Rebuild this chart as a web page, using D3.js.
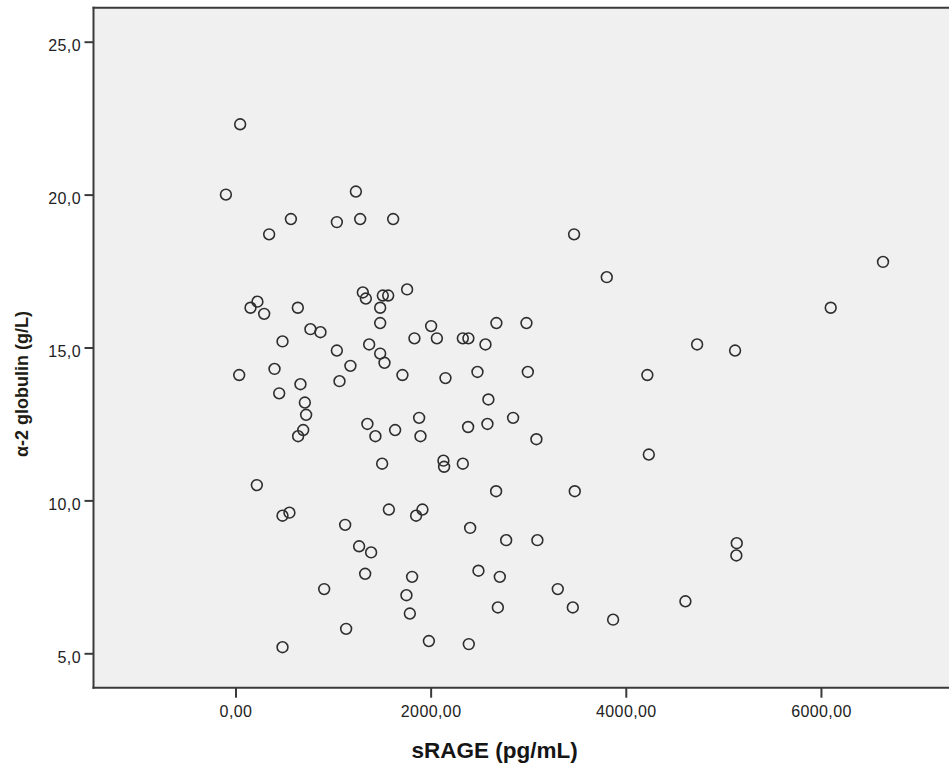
<!DOCTYPE html>
<html>
<head>
<meta charset="utf-8">
<script src="https://cdn.jsdelivr.net/npm/d3@7/dist/d3.min.js"></script>
<style>
  html, body { margin: 0; padding: 0; background: #ffffff; }
  svg { display: block; }
  text { font-family: "Liberation Sans", Arial, sans-serif; }
</style>
</head>
<body>
<svg id="chart" width="949" height="765"></svg>
<script>
// ---- data ----
const sRAGE = [
  48, -98, 1234, 568, 1039, 1278, 1616, 345, 1305, 1336,
  1510, 1565, 1759, 1483, 1483, 225, 154, 294, 639, 768,
  871, 482, 1039, 1370, 1483, 2005, 1834, 2064, 38, 400,
  1178, 1527, 1711, 666, 448, 1066, 711, 724, 694, 642,
  1352, 1434, 1636, 1882, 1896, 1503, 219, 482, 553, 1572,
  1851, 1916, 1124, 1267, 1390, 1329, 1810, 909, 1752, 1787,
  1134, 1982, 482, 3470, 3805, 2330, 2387, 2674, 2982, 2562,
  2152, 2480, 2996, 2592, 2845, 2384, 2582, 3084, 2131, 2138,
  2330, 2671, 3477, 2405, 2774, 3094, 2490, 2709, 3303, 2689,
  3457, 3870, 2391, 6636, 6100, 4731, 5120, 4221, 4236, 5137,
  5133, 4611
];
const alpha2 = [
  22.3, 20.0, 20.1, 19.2, 19.1, 19.2, 19.2, 18.7, 16.8, 16.6,
  16.7, 16.7, 16.9, 16.3, 15.8, 16.5, 16.3, 16.1, 16.3, 15.6,
  15.5, 15.2, 14.9, 15.1, 14.8, 15.7, 15.3, 15.3, 14.1, 14.3,
  14.4, 14.5, 14.1, 13.8, 13.5, 13.9, 13.2, 12.8, 12.3, 12.1,
  12.5, 12.1, 12.3, 12.7, 12.1, 11.2, 10.5, 9.5, 9.6, 9.7,
  9.5, 9.7, 9.2, 8.5, 8.3, 7.6, 7.5, 7.1, 6.9, 6.3,
  5.8, 5.4, 5.2, 18.7, 17.3, 15.3, 15.3, 15.8, 15.8, 15.1,
  14.0, 14.2, 14.2, 13.3, 12.7, 12.4, 12.5, 12.0, 11.3, 11.1,
  11.2, 10.3, 10.3, 9.1, 8.7, 8.7, 7.7, 7.5, 7.1, 6.5,
  6.5, 6.1, 5.3, 17.8, 16.3, 15.1, 14.9, 14.1, 11.5, 8.6,
  8.2, 6.7
];
const xTicks = [0, 2000, 4000, 6000];
const yTicks = [5, 10, 15, 20, 25];
const xTitle = "sRAGE (pg/mL)";
const yTitle = "\u03B1-2 globulin (g/L)";

const points = sRAGE.map((v, i) => ({ x: v, y: alpha2[i] }));

// ---- layout ----
const svg = d3.select("#chart");
const pL = 93.5, pR = 960, pT = 7.7, pB = 687.7;

const x = d3.scaleLinear().domain([-1455, 7425]).range([pL, pR]);
const y = d3.scaleLinear().domain([3.875, 26.112]).range([pB, pT]);

const fmtX = v => d3.format(".2f")(v).replace(".", ",");
const fmtY = v => d3.format(".1f")(v).replace(".", ",");

// plot background
svg.append("rect")
  .attr("x", pL).attr("y", pT)
  .attr("width", pR - pL).attr("height", pB - pT)
  .attr("fill", "#f0f0f0");

// points
svg.append("g")
  .selectAll("circle")
  .data(points)
  .enter().append("circle")
  .attr("cx", d => x(d.x))
  .attr("cy", d => y(d.y))
  .attr("r", 5.4)
  .attr("fill", "none")
  .attr("stroke", "#2e2e2e")
  .attr("stroke-width", 1.6);

// axes
const xAxis = d3.axisBottom(x).tickValues(xTicks).tickFormat(fmtX).tickSize(10).tickSizeOuter(0);
const yAxis = d3.axisLeft(y).tickValues(yTicks).tickFormat(fmtY).tickSize(9).tickSizeOuter(0);

const gx = svg.append("g").attr("transform", `translate(0,${pB})`).call(xAxis);
const gy = svg.append("g").attr("transform", `translate(${pL},0)`).call(yAxis);

[gx, gy].forEach(g => {
  g.select(".domain").remove();
  g.selectAll(".tick line").attr("stroke", "#3a3a3a").attr("stroke-width", 2);
  g.selectAll(".tick text")
    .attr("fill", "#222")
    .style("font-size", "16px")
    .style("letter-spacing", "0.4px")
    .style("font-family", "'Liberation Sans', Arial, sans-serif");
});
gx.selectAll(".tick text").attr("y", 29).attr("dy", 0);
gy.selectAll(".tick text").attr("x", -12.5).attr("dy", "0.58em");

// frame lines: left, bottom, top
svg.append("line").attr("x1", pL).attr("x2", pL).attr("y1", pT - 1).attr("y2", pB + 1)
  .attr("stroke", "#3a3a3a").attr("stroke-width", 2);
svg.append("line").attr("x1", pL - 1).attr("x2", pR).attr("y1", pB).attr("y2", pB)
  .attr("stroke", "#3a3a3a").attr("stroke-width", 2);
svg.append("line").attr("x1", pL - 1).attr("x2", pR).attr("y1", pT).attr("y2", pT)
  .attr("stroke", "#3a3a3a").attr("stroke-width", 2);

// titles
svg.append("text")
  .attr("x", 494.5).attr("y", 758.3)
  .attr("text-anchor", "middle")
  .style("font-size", "22.5px")
  .style("font-weight", "bold")
  .attr("fill", "#151515")
  .text(xTitle);

svg.append("text")
  .attr("transform", "translate(28,384) rotate(-90)")
  .attr("text-anchor", "middle")
  .style("font-size", "18px")
  .style("font-weight", "bold")
  .attr("fill", "#201c14")
  .text(yTitle);
</script>
</body>
</html>
